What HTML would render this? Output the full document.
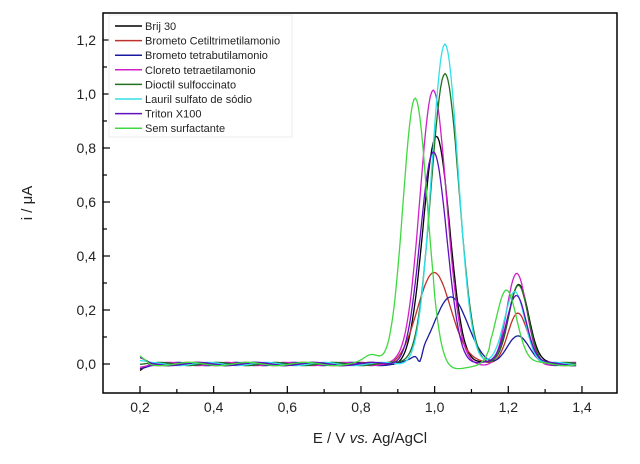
<!DOCTYPE html>
<html><head><meta charset="utf-8"><style>
body{margin:0;background:#fff;}
svg{display:block;font-family:"Liberation Sans",sans-serif;}
</style></head><body>
<svg id="s" width="640" height="464" xmlns="http://www.w3.org/2000/svg">
<rect x="0" y="0" width="640" height="464" fill="#fff"/>
<g id="curves"></g>
<rect x="103" y="13" width="514" height="380" fill="none" stroke="#000" stroke-width="1.5"/>
<g id="ticks" stroke="#000" stroke-width="1.2"></g>
<g font-size="14" fill="#222" id="labels"></g>
<text x="370" y="443" font-size="15" text-anchor="middle" fill="#222">E / V <tspan font-style="italic">vs.</tspan> Ag/AgCl</text>
<text transform="translate(32,203) rotate(-90)" font-size="15" text-anchor="middle" fill="#222">i / μA</text>
<rect x="109" y="15" width="183" height="122" fill="#fff" stroke="#eee"/>
<g id="legend" font-size="11" fill="#222"></g>
</svg>
<script>
const X=v=>140+(v-0.2)*368.3, Y=v=>364-v*270;
const ns="http://www.w3.org/2000/svg";
const tk=document.getElementById('ticks'),lb=document.getElementById('labels');
function el(p,t,a,txt){const e=document.createElementNS(ns,t);for(const k in a)e.setAttribute(k,a[k]);if(txt)e.textContent=txt;p.appendChild(e);return e;}
for(let i=0;i<=13;i++){const v=0.2+i*0.1;const x=X(v);if(x>616)break;const major=i%2==0;
el(tk,'line',{x1:x,x2:x,y1:393,y2:major?386:389});
if(major)el(lb,'text',{x:x,y:412,'text-anchor':'middle'},v.toFixed(1).replace('.',','));}
for(let v=0;v<=1.21;v+=0.1){const y=Y(v);const major=Math.round(v*10)%2==0;
el(tk,'line',{x1:103,x2:major?110:107,y1:y,y2:y});
if(major)el(lb,'text',{x:96,y:y+5,'text-anchor':'end'},v.toFixed(1).replace('.',','));}
const g=(v,m,s)=>Math.exp(-((v-m)*(v-m))/(2*s*s));
const series=[
["Brij 30","#000",[[0.84,1.005,0.036],[0.30,1.228,0.027]]],
["Brometo Cetiltrimetilamonio","#c0302a",[[0.34,1.0,0.045],[0.19,1.225,0.027]]],
["Brometo tetrabutilamonio","#1a1aa0",[[0.25,1.042,0.045],[0.10,1.225,0.03],[-0.04,0.96,0.006]]],
["Cloreto tetraetilamonio","#d020c8",[[1.02,0.996,0.036],[0.33,1.223,0.027]]],
["Dioctil sulfoccinato","#207020",[[1.07,1.028,0.038],[0.29,1.228,0.027]]],
["Lauril sulfato de sódio","#30e0e8",[[1.18,1.028,0.036],[0.27,1.218,0.028]]],
["Triton X100","#6010c0",[[0.78,0.997,0.036],[0.26,1.222,0.027]]],
["Sem surfactante","#40d840",[[0.98,0.947,0.033],[0.28,1.195,0.028],[0.03,0.83,0.02]]]];
const cg=document.getElementById('curves'),lg=document.getElementById('legend');
series.forEach((s,i)=>{let d="";for(let v=0.2;v<=1.385;v+=0.004){let y=0;s[2].forEach(p=>y+=p[0]*g(v,p[1],p[2]));
y+=0.006*Math.sin(v*40+i)+ (v<0.23?(-0.03+i*0.008)*(0.23-v)/0.03:0);
if(i==7&&v>1.0&&v<1.15)y-=0.015;
d+=(d?"L":"M")+X(v).toFixed(1)+","+Y(y).toFixed(1);}
el(cg,'path',{d:d,fill:'none',stroke:s[1],'stroke-width':1.3});
const ly=26+i*14.6;el(lg,'line',{x1:115,x2:142,y1:ly,y2:ly,stroke:s[1],'stroke-width':1.5});
el(lg,'text',{x:145,y:ly+4},s[0]);});
</script>
</body></html>
